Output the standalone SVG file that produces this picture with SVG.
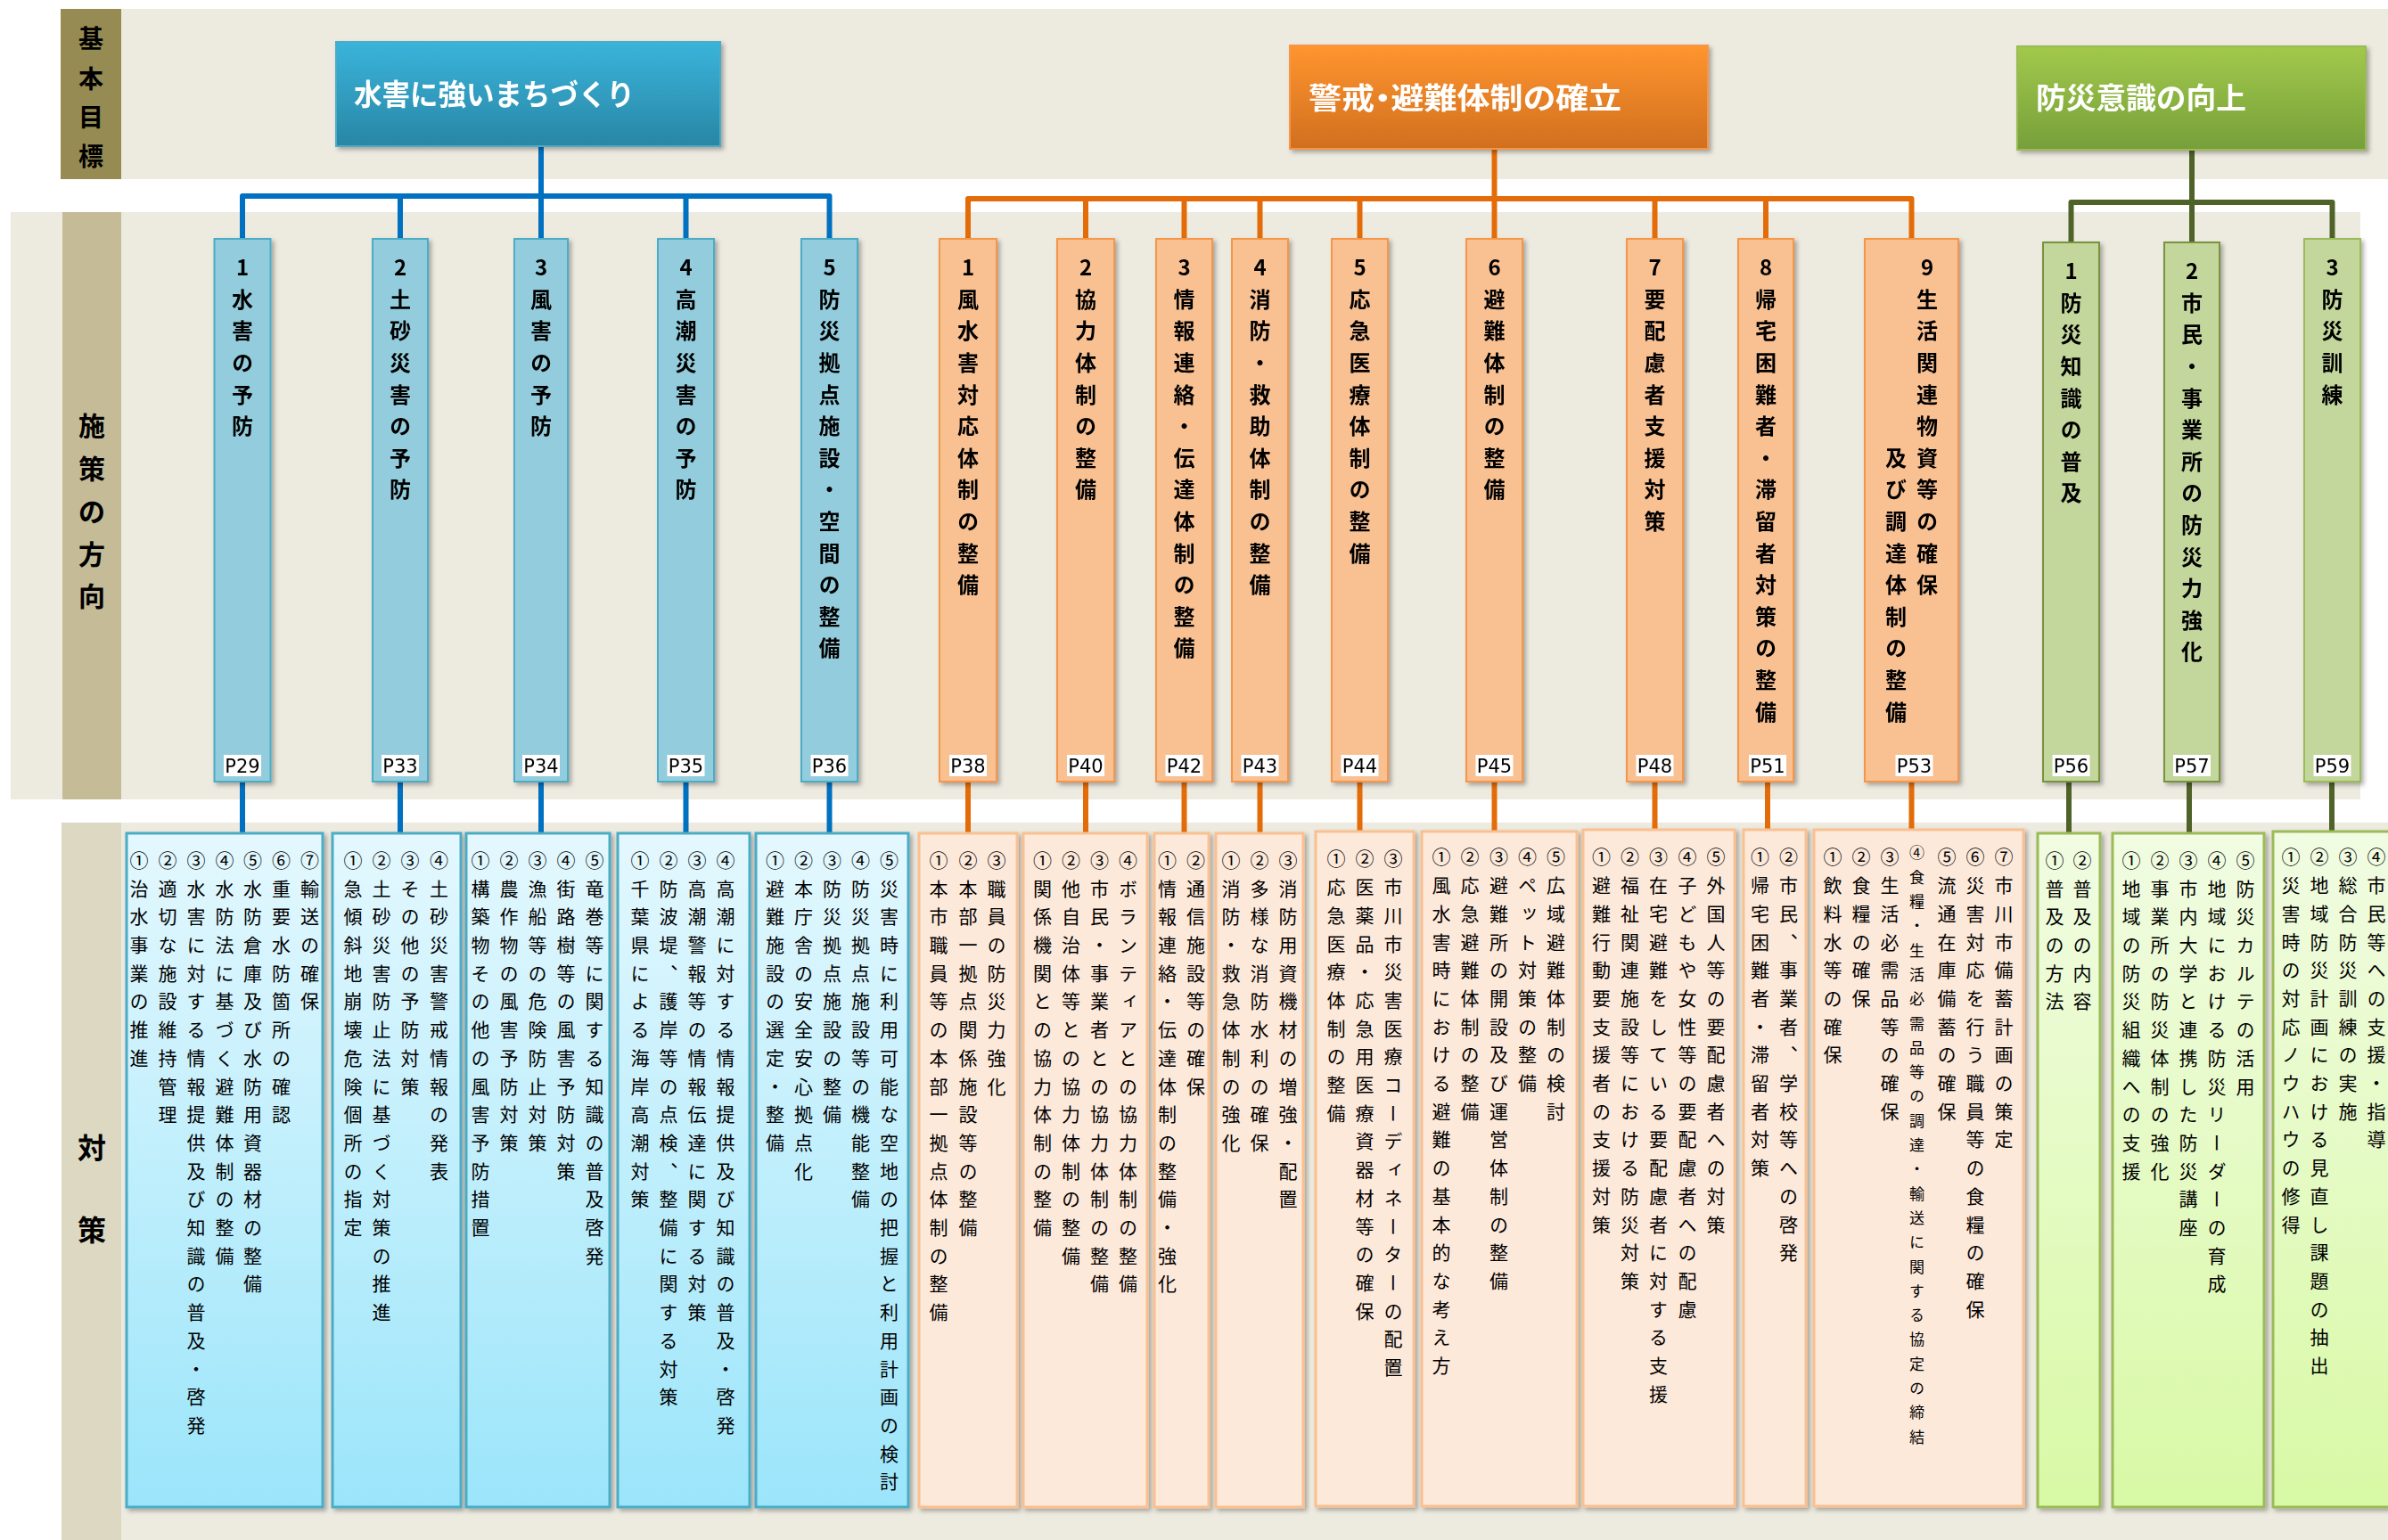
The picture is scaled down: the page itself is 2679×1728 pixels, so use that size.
<svg xmlns="http://www.w3.org/2000/svg" width="2679" height="1728" viewBox="0 0 2679 1728">
<style>
.band{fill:#EDEAE0}
.lab{font-family:"Noto Sans CJK JP",sans-serif;font-weight:700;fill:#000;text-anchor:middle}
.hd{font-family:"Noto Sans CJK JP",sans-serif;font-weight:700;font-size:33px;fill:#fff}
.palt{font-feature-settings:"palt"}
.vt{writing-mode:vertical-rl;text-orientation:upright;font-family:"Noto Sans CJK JP",sans-serif;fill:#000}
.ct{font-size:24px;font-weight:700;letter-spacing:11.6px}
.it{font-size:21px;font-weight:400;letter-spacing:10.7px}
.its{font-size:17px;font-weight:400;letter-spacing:10.3px}
.cb{fill:#93CDDD;stroke:#4BACC6;stroke-width:2}
.co{fill:#F9C091;stroke:#F79646;stroke-width:2}
.cg{fill:#C3D69B;stroke:#77933C;stroke-width:2}
.cg3{fill:#C3D69B;stroke:#9BBB59;stroke-width:2}
.bb{fill:url(#gbb);stroke:#4BACC6;stroke-width:3}
.bo{fill:#FDE9DA;stroke:#FAC090;stroke-width:3}
.bg{fill:url(#gbg);stroke:#9BBB59;stroke-width:3}
.pr{fill:#fff}
.pt{font-family:"DejaVu Sans",Verdana,sans-serif;font-size:21px;fill:#000;text-anchor:middle}
.lb{fill:none;stroke:#0070C0;stroke-width:6;stroke-linejoin:round}
.lo{fill:none;stroke:#E36C09;stroke-width:6;stroke-linejoin:round}
.lg{fill:none;stroke:#4F6228;stroke-width:6;stroke-linejoin:round}
</style>
<defs>
<linearGradient id="ghb" x1="0" y1="0" x2="0" y2="1"><stop offset="0" stop-color="#3AB4DB"/><stop offset="1" stop-color="#2986A5"/></linearGradient>
<linearGradient id="gho" x1="0" y1="0" x2="0" y2="1"><stop offset="0" stop-color="#FF952F"/><stop offset="1" stop-color="#D16F1F"/></linearGradient>
<linearGradient id="ghg" x1="0" y1="0" x2="0" y2="1"><stop offset="0" stop-color="#A2C94B"/><stop offset="1" stop-color="#769F3A"/></linearGradient>
<linearGradient id="gbb" x1="0" y1="0" x2="0" y2="1"><stop offset="0" stop-color="#E4F8FE"/><stop offset="1" stop-color="#9BE5FA"/></linearGradient>
<linearGradient id="gbg" x1="0" y1="0" x2="0" y2="1"><stop offset="0" stop-color="#F1FCE2"/><stop offset="1" stop-color="#D8F9A5"/></linearGradient>
<filter id="sh" x="-10%" y="-10%" width="130%" height="130%"><feDropShadow dx="3" dy="3" stdDeviation="2.5" flood-color="#000" flood-opacity="0.3"/></filter>
</defs>
<rect width="2679" height="1728" fill="#fff"/>
<!-- bands -->
<rect class="band" x="136" y="10" width="2543" height="191"/>
<rect x="68" y="10" width="68" height="191" fill="#968B52"/>
<rect class="band" x="12" y="238" width="2636" height="659"/>
<rect x="70" y="238" width="66" height="659" fill="#C5BC97"/>
<rect class="band" x="136" y="923" width="2543" height="805"/>
<rect x="69" y="923" width="67" height="805" fill="#DDD8C2"/>
<g id="label-kihon">
<text class="lab" font-size="28" x="102" y="54">基</text>
<text class="lab" font-size="28" x="102" y="99">本</text>
<text class="lab" font-size="28" x="102" y="142">目</text>
<text class="lab" font-size="28" x="102" y="186">標</text>
</g>
<g id="label-shisaku">
<text class="lab" font-size="30" x="103" y="489">施</text>
<text class="lab" font-size="30" x="103" y="537">策</text>
<text class="lab" font-size="30" x="103" y="585">の</text>
<text class="lab" font-size="30" x="103" y="633">方</text>
<text class="lab" font-size="30" x="103" y="680">向</text>
</g>
<g id="label-taisaku">
<text class="lab" font-size="32" x="103" y="1300">対</text>
<text class="lab" font-size="32" x="103" y="1392">策</text>
</g>
<!-- connectors -->
<g id="connectors">
<path class="lb" d="M607,164V268M272,268V220H930.5V268M449,220V268M769.5,220V268"/>
<path class="lo" d="M1676.5,167V268M1086,268V223H2144.5V268M1218,223V268M1328.5,223V268M1413.5,223V268M1525.5,223V268M1856.5,223V268M1981,223V268"/>
<path class="lg" d="M2459,168V272M2323.5,272V227H2616.5V268"/>
<path class="lb" d="M272,877V935M449,877V935M607,877V935M769.5,877V935M930.5,877V935"/>
<path class="lo" d="M1086,877V935M1218,877V935M1328.5,877V935M1413.5,877V935M1525.5,877V935M1676.5,877V933M1856.5,877V931M1983,877V931M2144.5,877V931"/>
<path class="lg" d="M2321,877V935M2456,877V935M2616,877V935"/>
</g>
<!-- headers -->
<g id="goal-1" filter="url(#sh)"><rect x="377" y="47" width="431" height="117" fill="url(#ghb)" stroke="#4BACC6" stroke-width="2"/><text class="hd" x="397" y="118" textLength="315" lengthAdjust="spacingAndGlyphs">水害に強いまちづくり</text></g>
<g id="goal-2" filter="url(#sh)"><rect x="1447" y="51" width="469" height="116" fill="url(#gho)" stroke="#F79646" stroke-width="2"/><text class="hd palt" x="1468" y="122" font-size="35" textLength="351" lengthAdjust="spacingAndGlyphs">警戒・避難体制の確立</text></g>
<g id="goal-3" filter="url(#sh)"><rect x="2263" y="52" width="391" height="116" fill="url(#ghg)" stroke="#9BBB59" stroke-width="2"/><text class="hd" x="2284" y="122" textLength="236" lengthAdjust="spacingAndGlyphs">防災意識の向上</text></g>
<!-- policy columns -->
<g id="pb1" filter="url(#sh)"><rect class="cb" x="240.5" y="268" width="63" height="609"/><text class="vt ct" x="272" y="288">1水害の予防</text><rect class="pr" x="251" y="847" width="42" height="24"/><text class="pt" x="272" y="867">P29</text></g>
<g id="pb2" filter="url(#sh)"><rect class="cb" x="418" y="268" width="62" height="609"/><text class="vt ct" x="449" y="288">2土砂災害の予防</text><rect class="pr" x="428" y="847" width="42" height="24"/><text class="pt" x="449" y="867">P33</text></g>
<g id="pb3" filter="url(#sh)"><rect class="cb" x="577" y="268" width="60" height="609"/><text class="vt ct" x="607" y="288">3風害の予防</text><rect class="pr" x="586" y="847" width="42" height="24"/><text class="pt" x="607" y="867">P34</text></g>
<g id="pb4" filter="url(#sh)"><rect class="cb" x="738" y="268" width="63" height="609"/><text class="vt ct" x="769.5" y="288">4高潮災害の予防</text><rect class="pr" x="748.5" y="847" width="42" height="24"/><text class="pt" x="769.5" y="867">P35</text></g>
<g id="pb5" filter="url(#sh)"><rect class="cb" x="899" y="268" width="63" height="609"/><text class="vt ct" x="930.5" y="288">5防災拠点施設・空間の整備</text><rect class="pr" x="909.5" y="847" width="42" height="24"/><text class="pt" x="930.5" y="867">P36</text></g>
<g id="po1" filter="url(#sh)"><rect class="co" x="1054" y="268" width="64" height="609"/><text class="vt ct" x="1086" y="288">1風水害対応体制の整備</text><rect class="pr" x="1065" y="847" width="42" height="24"/><text class="pt" x="1086" y="867">P38</text></g>
<g id="po2" filter="url(#sh)"><rect class="co" x="1186" y="268" width="64" height="609"/><text class="vt ct" x="1218" y="288">2協力体制の整備</text><rect class="pr" x="1197" y="847" width="42" height="24"/><text class="pt" x="1218" y="867">P40</text></g>
<g id="po3" filter="url(#sh)"><rect class="co" x="1297" y="268" width="63" height="609"/><text class="vt ct" x="1328.5" y="288">3情報連絡・伝達体制の整備</text><rect class="pr" x="1307.5" y="847" width="42" height="24"/><text class="pt" x="1328.5" y="867">P42</text></g>
<g id="po4" filter="url(#sh)"><rect class="co" x="1382" y="268" width="63" height="609"/><text class="vt ct" x="1413.5" y="288">4消防・救助体制の整備</text><rect class="pr" x="1392.5" y="847" width="42" height="24"/><text class="pt" x="1413.5" y="867">P43</text></g>
<g id="po5" filter="url(#sh)"><rect class="co" x="1494" y="268" width="63" height="609"/><text class="vt ct" x="1525.5" y="288">5応急医療体制の整備</text><rect class="pr" x="1504.5" y="847" width="42" height="24"/><text class="pt" x="1525.5" y="867">P44</text></g>
<g id="po6" filter="url(#sh)"><rect class="co" x="1645" y="268" width="63" height="609"/><text class="vt ct" x="1676.5" y="288">6避難体制の整備</text><rect class="pr" x="1655.5" y="847" width="42" height="24"/><text class="pt" x="1676.5" y="867">P45</text></g>
<g id="po7" filter="url(#sh)"><rect class="co" x="1825" y="268" width="63" height="609"/><text class="vt ct" x="1856.5" y="288">7要配慮者支援対策</text><rect class="pr" x="1835.5" y="847" width="42" height="24"/><text class="pt" x="1856.5" y="867">P48</text></g>
<g id="po8" filter="url(#sh)"><rect class="co" x="1950" y="268" width="62" height="609"/><text class="vt ct" x="1981" y="288">8帰宅困難者・滞留者対策の整備</text><rect class="pr" x="1962" y="847" width="42" height="24"/><text class="pt" x="1983" y="867">P51</text></g>
<g id="po9" filter="url(#sh)"><rect class="co" x="2092" y="268" width="105" height="609"/><text class="vt ct" x="2162" y="288">9生活関連物資等の確保</text><text class="vt ct" x="2127" y="501.6">及び調達体制の整備</text><rect class="pr" x="2126.5" y="847" width="42" height="24"/><text class="pt" x="2147.5" y="867">P53</text></g>
<g id="pg1" filter="url(#sh)"><rect class="cg" x="2292" y="272" width="63" height="605"/><text class="vt ct" x="2323.5" y="292">1防災知識の普及</text><rect class="pr" x="2302.5" y="847" width="42" height="24"/><text class="pt" x="2323.5" y="867">P56</text></g>
<g id="pg2" filter="url(#sh)"><rect class="cg" x="2428" y="272" width="62" height="605"/><text class="vt ct" x="2459" y="292">2市民・事業所の防災力強化</text><rect class="pr" x="2438" y="847" width="42" height="24"/><text class="pt" x="2459" y="867">P57</text></g>
<g id="pg3" filter="url(#sh)"><rect class="cg3" x="2585" y="268" width="63" height="609"/><text class="vt ct" x="2616.5" y="288">3防災訓練</text><rect class="pr" x="2595.5" y="847" width="42" height="24"/><text class="pt" x="2616.5" y="867">P59</text></g>
<!-- measures -->
<g id="mb1"><rect class="bb" x="142" y="935" width="220" height="756" filter="url(#sh)"/>
<text class="vt it" x="156" y="954.5">①治水事業の推進</text>
<text class="vt it" x="188" y="954.5">②適切な施設維持管理</text>
<text class="vt it" x="220" y="954.5">③水害に対する情報提供及び知識の普及・啓発</text>
<text class="vt it" x="252" y="954.5">④水防法に基づく避難体制の整備</text>
<text class="vt it" x="283.5" y="954.5">⑤水防倉庫及び水防用資器材の整備</text>
<text class="vt it" x="315.5" y="954.5">⑥重要水防箇所の確認</text>
<text class="vt it" x="347.5" y="954.5">⑦輸送の確保</text></g>
<g id="mb2"><rect class="bb" x="373" y="935" width="144" height="756" filter="url(#sh)"/>
<text class="vt it" x="396" y="954.5">①急傾斜地崩壊危険個所の指定</text>
<text class="vt it" x="428" y="954.5">②土砂災害防止法に基づく対策の推進</text>
<text class="vt it" x="460" y="954.5">③その他の予防対策</text>
<text class="vt it" x="492.5" y="954.5">④土砂災害警戒情報の発表</text></g>
<g id="mb3"><rect class="bb" x="523" y="935" width="161" height="756" filter="url(#sh)"/>
<text class="vt it" x="539" y="954.5">①構築物その他の風害予防措置</text>
<text class="vt it" x="571" y="954.5">②農作物の風害予防対策</text>
<text class="vt it" x="603" y="954.5">③漁船等の危険防止対策</text>
<text class="vt it" x="635" y="954.5">④街路樹等の風害予防対策</text>
<text class="vt it" x="667" y="954.5">⑤竜巻等に関する知識の普及啓発</text></g>
<g id="mb4"><rect class="bb" x="693" y="935" width="148" height="756" filter="url(#sh)"/>
<text class="vt it" x="718" y="954.5">①千葉県による海岸高潮対策</text>
<text class="vt it" x="750" y="954.5">②防波堤、護岸等の点検、整備に関する対策</text>
<text class="vt it" x="782" y="954.5">③高潮警報等の情報伝達に関する対策</text>
<text class="vt it" x="814" y="954.5">④高潮に対する情報提供及び知識の普及・啓発</text></g>
<g id="mb5"><rect class="bb" x="848" y="935" width="171" height="756" filter="url(#sh)"/>
<text class="vt it" x="869.5" y="954.5">①避難施設の選定・整備</text>
<text class="vt it" x="901.5" y="954.5">②本庁舎の安全安心拠点化</text>
<text class="vt it" x="933.5" y="954.5">③防災拠点施設の整備</text>
<text class="vt it" x="965.5" y="954.5">④防災拠点施設等の機能整備</text>
<text class="vt it" x="997.5" y="954.5">⑤災害時に利用可能な空地の把握と利用計画の検討</text></g>
<g id="mo1"><rect class="bo" x="1031" y="935" width="110" height="756" filter="url(#sh)"/>
<text class="vt it" x="1053" y="954.5">①本市職員等の本部一拠点体制の整備</text>
<text class="vt it" x="1086" y="954.5">②本部一拠点関係施設等の整備</text>
<text class="vt it" x="1118" y="954.5">③職員の防災力強化</text></g>
<g id="mo2"><rect class="bo" x="1148" y="935" width="139" height="756" filter="url(#sh)"/>
<text class="vt it" x="1169.5" y="954.5">①関係機関との協力体制の整備</text>
<text class="vt it" x="1201.5" y="954.5">②他自治体等との協力体制の整備</text>
<text class="vt it" x="1233.5" y="954.5">③市民・事業者との協力体制の整備</text>
<text class="vt it" x="1265.5" y="954.5">④ボランティアとの協力体制の整備</text></g>
<g id="mo3"><rect class="bo" x="1295" y="935" width="61" height="756" filter="url(#sh)"/>
<text class="vt it" x="1309.5" y="954.5">①情報連絡・伝達体制の整備・強化</text>
<text class="vt it" x="1341.5" y="954.5">②通信施設等の確保</text></g>
<g id="mo4"><rect class="bo" x="1364" y="935" width="98" height="756" filter="url(#sh)"/>
<text class="vt it" x="1381" y="954.5">①消防・救急体制の強化</text>
<text class="vt it" x="1413" y="954.5">②多様な消防水利の確保</text>
<text class="vt it" x="1445" y="954.5">③消防用資機材の増強・配置</text></g>
<g id="mo5"><rect class="bo" x="1476" y="933" width="110" height="757" filter="url(#sh)"/>
<text class="vt it" x="1499" y="953">①応急医療体制の整備</text>
<text class="vt it" x="1531" y="953">②医薬品・応急用医療資器材等の確保</text>
<text class="vt it" x="1563" y="953">③市川市災害医療コーディネーターの配置</text></g>
<g id="mo6"><rect class="bo" x="1595" y="933" width="174" height="757" filter="url(#sh)"/>
<text class="vt it" x="1617" y="951">①風水害時における避難の基本的な考え方</text>
<text class="vt it" x="1649" y="951">②応急避難体制の整備</text>
<text class="vt it" x="1681.5" y="951">③避難所の開設及び運営体制の整備</text>
<text class="vt it" x="1713.5" y="951">④ペット対策の整備</text>
<text class="vt it" x="1745.5" y="951">⑤広域避難体制の検討</text></g>
<g id="mo7"><rect class="bo" x="1776" y="931" width="170" height="759" filter="url(#sh)"/>
<text class="vt it" x="1796.5" y="951">①避難行動要支援者の支援対策</text>
<text class="vt it" x="1828.5" y="951">②福祉関連施設等における防災対策</text>
<text class="vt it" x="1860.5" y="951">③在宅避難をしている要配慮者に対する支援</text>
<text class="vt it" x="1893" y="951">④子どもや女性等の要配慮者への配慮</text>
<text class="vt it" x="1925" y="951">⑤外国人等の要配慮者への対策</text></g>
<g id="mo8"><rect class="bo" x="1956" y="931" width="70" height="759" filter="url(#sh)"/>
<text class="vt it" x="1974.5" y="951">①帰宅困難者・滞留者対策</text>
<text class="vt it" x="2006.5" y="951">②市民、事業者、学校等への啓発</text></g>
<g id="mo9"><rect class="bo" x="2035" y="931" width="235" height="759" filter="url(#sh)"/>
<text class="vt it" x="2056" y="951">①飲料水等の確保</text>
<text class="vt it" x="2088" y="951">②食糧の確保</text>
<text class="vt it" x="2120" y="951">③生活必需品等の確保</text>
<text class="vt its" x="2150.5" y="948.5">④食糧・生活必需品等の調達・輸送に関する協定の締結</text>
<text class="vt it" x="2184" y="951">⑤流通在庫備蓄の確保</text>
<text class="vt it" x="2216" y="951">⑥災害対応を行う職員等の食糧の確保</text>
<text class="vt it" x="2248" y="951">⑦市川市備蓄計画の策定</text></g>
<g id="mg1"><rect class="bg" x="2286" y="935" width="70" height="756" filter="url(#sh)"/>
<text class="vt it" x="2305" y="954.5">①普及の方法</text>
<text class="vt it" x="2336" y="954.5">②普及の内容</text></g>
<g id="mg2"><rect class="bg" x="2370" y="935" width="170" height="756" filter="url(#sh)"/>
<text class="vt it" x="2391" y="954.5">①地域の防災組織への支援</text>
<text class="vt it" x="2423" y="954.5">②事業所の防災体制の強化</text>
<text class="vt it" x="2455" y="954.5">③市内大学と連携した防災講座</text>
<text class="vt it" x="2487" y="954.5">④地域における防災リーダーの育成</text>
<text class="vt it" x="2519" y="954.5">⑤防災カルテの活用</text></g>
<g id="mg3"><rect class="bg" x="2550" y="933" width="160" height="758" filter="url(#sh)"/>
<text class="vt it" x="2570" y="951">①災害時の対応ノウハウの修得</text>
<text class="vt it" x="2602" y="951">②地域防災計画における見直し課題の抽出</text>
<text class="vt it" x="2634" y="951">③総合防災訓練の実施</text>
<text class="vt it" x="2666" y="951">④市民等への支援・指導</text></g>
</svg>
